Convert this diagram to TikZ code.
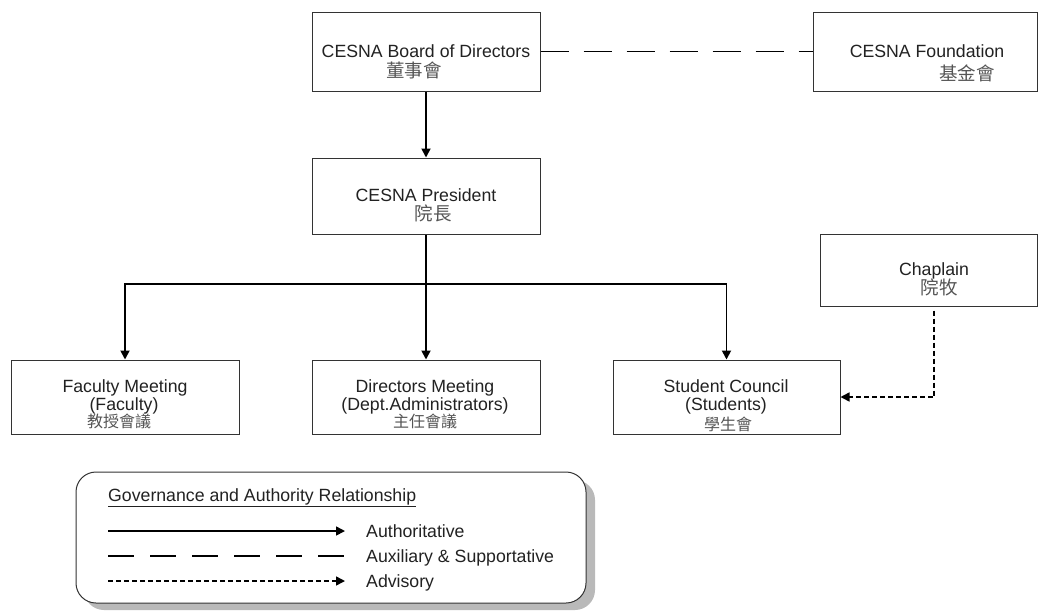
\documentclass[tikz,border=0pt]{standalone}
\usepackage{fontspec}
\setmainfont{Liberation Sans}
\newfontfamily\cjk{Noto Sans CJK TC}
\usetikzlibrary{arrows.meta,calc}
\definecolor{ink}{HTML}{222222}
\definecolor{zhc}{HTML}{555555}
\definecolor{frame}{HTML}{333333}
\tikzset{
  box/.style={draw=frame, line width=1pt, fill=white, inner sep=0pt, rectangle},
  en/.style={anchor=base, inner sep=0pt, text=ink, font=\fontsize{17.7}{19}\selectfont},
  zh/.style={anchor=base, inner sep=0pt, text=zhc, font=\cjk\fontsize{18.5}{19}\selectfont},
  zhs/.style={anchor=base, inner sep=0pt, text=zhc, font=\cjk\fontsize{16}{17}\selectfont},
  tip/.style={-{Triangle[length=9pt,width=9pt]}},
  auth/.style={line width=1.8pt, draw=black, tip},
  aux/.style={line width=1.7pt, draw=black, dash pattern=on 28pt off 15pt},
  adv/.style={line width=1.6pt, draw=black, dash pattern=on 5pt off 3pt, tip},
}
\begin{document}
\begin{tikzpicture}[x=1pt,y=-1pt]
\useasboundingbox (0,0) rectangle (1038,611);
\fill[white] (0,0) rectangle (1038,611);

% boxes
\node[box, minimum width=228pt, minimum height=79pt] (board) at (426,51.5) {};
\node[box, minimum width=224pt, minimum height=79pt] (found) at (925,51.5) {};
\node[box, minimum width=228pt, minimum height=76pt] (pres) at (426,196) {};
\node[box, minimum width=217pt, minimum height=72pt] (chap) at (928.5,270) {};
\node[box, minimum width=228pt, minimum height=74pt] (fac) at (125,397) {};
\node[box, minimum width=228pt, minimum height=74pt] (dir) at (426,397) {};
\node[box, minimum width=227pt, minimum height=74pt] (stu) at (726.5,397) {};

% texts
\node[en] (board1) at (426,57) {CESNA Board of Directors};
\node[zh] (board2) at (414,77) {董事會};
\node[en] (found1) at (927,57) {CESNA Foundation};
\node[zh] (found2) at (967,80) {基金會};
\node[en] (pres1) at (426,201) {CESNA President};
\node[zh] (pres2) at (433,220) {院長};
\node[en] (chap1) at (934,275) {Chaplain};
\node[zh] (chap2) at (939,294) {院牧};
\node[en] (fac1) at (125,392) {Faculty Meeting};
\node[en] (fac2) at (124,410) {(Faculty)};
\node[zhs] (fac3) at (119,427) {教授會議};
\node[en] (dir1) at (425,392) {Directors Meeting};
\node[en] (dir2) at (425,410) {(Dept.Administrators)};
\node[zhs] (dir3) at (425,427) {主任會議};
\node[en] (stu1) at (726,392) {Student Council};
\node[en] (stu2) at (726,410) {(Students)};
\node[zhs] (stu3) at (728,430) {學生會};

% connectors
\draw[aux] (board.east) -- (found.west);
\draw[auth] (board.south) -- (pres.north);
\coordinate (split) at (426,284);
\draw[line width=1.8pt] (pres.south) -- (split);
\draw[auth] (split) -| (fac.north);
\draw[auth] (split) -| (stu.north);
\draw[auth] (split) -- (dir.north);
\coordinate (chapout) at ($(chap.south)+(5.5,4)$);
\draw[adv] (chapout) |- (stu.east);

% legend
\fill[gray!55, rounded corners=20pt] (84,480) rectangle (595,610);
\node[draw=frame, line width=1pt, fill=white, rounded corners=20pt, minimum width=510pt, minimum height=131pt, inner sep=0pt] (legend) at (331,537.5) {};
\node[en, anchor=base west] (ltitle) at (108,501) {\underline{Governance and Authority Relationship}};
\coordinate (l1a) at (108,531); \coordinate (l1b) at (345,531);
\coordinate (l2a) at (108,556); \coordinate (l2b) at (345,556);
\coordinate (l3a) at (108,581); \coordinate (l3b) at (345,581);
\draw[auth, line width=1.6pt] (l1a) -- (l1b);
\draw[aux, line width=1.5pt, dash pattern=on 26pt off 16pt] (l2a) -- (l2b);
\draw[adv, line width=1.5pt] (l3a) -- (l3b);
\node[en, anchor=base west] (lt1) at (366,537) {Authoritative};
\node[en, anchor=base west] (lt2) at (366,562) {Auxiliary \& Supportative};
\node[en, anchor=base west] (lt3) at (366,587) {Advisory};
\end{tikzpicture}
\end{document}
